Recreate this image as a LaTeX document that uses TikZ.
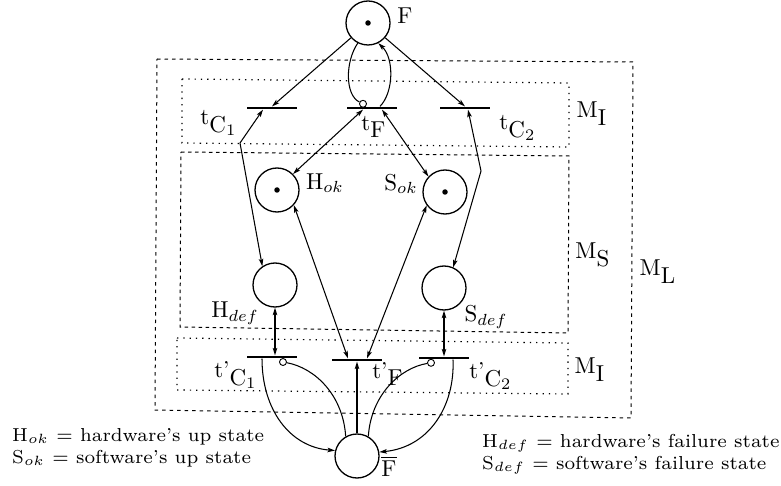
\documentclass[tikz,border=0pt]{standalone}
\usepackage{graphicx}
\usetikzlibrary{arrows.meta}
\newcommand\lbl[1]{\scalebox{2.3}{#1}}
\newcommand\legtxt[1]{\scalebox{2.68}{\fontsize{7}{8.4}\selectfont #1}}
\begin{document}
\begin{tikzpicture}[x=1pt,y=-1pt,
  place/.style={circle,draw,line width=1.3pt,minimum size=44pt,inner sep=0pt},
  token/.style={circle,fill,minimum size=5.5pt,inner sep=0pt},
  trans/.style={rectangle,fill,minimum width=50pt,minimum height=2.8pt,inner sep=0pt},
  inh/.style={circle,draw,fill=white,line width=0.9pt,minimum size=7pt,inner sep=0pt},
  arc/.style={line width=1.05pt},
  lab/.style={inner sep=0pt},
  boxL/.style={dash pattern=on 3.5pt off 4pt,line width=1pt},
  boxI/.style={dash pattern=on 1.3pt off 5pt,line width=1.2pt},
  boxS/.style={dash pattern=on 3.5pt off 3.5pt,line width=1pt},
  >={Stealth[length=7.5pt,width=4.5pt,inset=1.5pt]}]
\useasboundingbox (0,0) rectangle (781,486);
% module boxes
\draw[boxL] (157,59) -- (633,62) -- (631,418) -- (155,410) -- cycle;
\draw[boxI] (182,79) -- (569,83) -- (569,147) -- (182,143) -- cycle;
\draw[boxS] (181,152) -- (569,156) -- (568,333) -- (180,327) -- cycle;
\draw[boxI] (177,338) -- (568,343) -- (568,394) -- (177,390) -- cycle;
% places
\node[place] (F) at (368,23) {};
\node[place] (Hok) at (277,190) {};
\node[place] (Sok) at (445,192) {};
\node[place] (Hdef) at (275,285) {};
\node[place] (Sdef) at (444,288) {};
\node[place] (Fb) at (357,456) {};
\node[token] (kF) at (F.center) {};
\node[token] (kH) at (Hok.center) {};
\node[token] (kS) at (Sok.center) {};
% transitions
\node[trans] (tC1) at (272,108) {};
\node[trans] (tF) at (372,108) {};
\node[trans] (tC2) at (465,108) {};
\node[trans] (tpC1) at (272,357) {};
\node[trans] (tpF) at (357,360) {};
\node[trans] (tpC2) at (443.5,358) {};
% inhibitor circles
\node[inh] (i1) at (363,103.8) {};
\node[inh] (i2) at (283,362) {};
\node[inh] (i3) at (431,362.8) {};
% bend points
\coordinate (b1) at (240,143);
\coordinate (b2) at (481,171);
% arcs
\draw[arc,->] (F) -- (tC1.north);
\draw[arc,->] (F) -- (tC2.north);
\draw[arc] (F.243) .. controls (345,62) and (345,95) .. (i1);
\draw[arc,->] ([xshift=8pt]tF.north) .. controls (394,92) and (394,58) .. (F.297);
\draw[arc,<->] ([xshift=-9pt]tC1.south) -- (b1) -- (Hdef.124);
\draw[arc,<->] ([xshift=-9pt]tF.south) -- (Hok.45);
\draw[arc,<->] ([xshift=10pt]tF.south) -- (Sok.137);
\draw[arc,<->] ([xshift=3pt]tC2.south) -- (b2) -- (Sdef.66);
\draw[arc,<->] (Hdef.south) -- (Hdef.south |- tpC1.north);
\draw[arc,<->] (Sdef.south) -- (Sdef.south |- tpC2.north);
\draw[arc,<->] (Hok.-42) -- ([xshift=-9pt]tpF.north);
\draw[arc,<->] (Sok.216) -- ([xshift=10pt]tpF.north);
\draw[arc,->] (Fb) -- (tpF.south);
\draw[arc,->] ([xshift=-10pt]tpC1.south) .. controls (262,410) and (290,447) .. (Fb.166);
\draw[arc] (Fb.120) .. controls (343,395) and (315,368) .. (i2);
\draw[arc] (Fb.60) .. controls (371,395) and (400,368) .. (i3);
\draw[arc,->] ([xshift=9.5pt]tpC2.south) .. controls (455,405) and (430,447) .. (Fb.10);
% labels
\node[lab] (lF) at (405,16) {\lbl{F}};
\node[lab] (ltC1) at (219,123) {\lbl{t$_{\textstyle\mathrm{C}_1}$}};
\node[lab] (ltF) at (374,127) {\lbl{t$_{\textstyle\mathrm{F}}$}};
\node[lab] (ltC2) at (518,128) {\lbl{t$_{\textstyle\mathrm{C}_2}$}};
\node[lab] (lMI) at (592,114) {\lbl{M$_{\textstyle\mathrm{I}}$}};
\node[lab] (lHok) at (325,183) {\lbl{H$_{ok}$}};
\node[lab] (lSok) at (401,184) {\lbl{S$_{ok}$}};
\node[lab] (lMS) at (593,255) {\lbl{M$_{\textstyle\mathrm{S}}$}};
\node[lab] (lHdef) at (235,313) {\lbl{H$_{def}$}};
\node[lab] (lSdef) at (486,317) {\lbl{S$_{def}$}};
\node[lab] (lML) at (658,272) {\lbl{M$_{\textstyle\mathrm{L}}$}};
\node[lab] (ltpC1) at (236,375) {\lbl{t'$_{\textstyle\mathrm{C}_1}$}};
\node[lab] (ltpF) at (388,374) {\lbl{t'$_{\textstyle\mathrm{F}}$}};
\node[lab] (ltpC2) at (491,376) {\lbl{t'$_{\textstyle\mathrm{C}_2}$}};
\node[lab] (lMI2) at (590,370) {\lbl{M$_{\textstyle\mathrm{I}}$}};
\node[lab] (lFb) at (389,466) {\lbl{$\overline{\mathrm{F}}$}};
% legend
\node[lab,anchor=base west] (leg1) at (12,441) {\legtxt{H$_{ok}$ = hardware's up state}};
\node[lab,anchor=base west] (leg2) at (12,463) {\legtxt{S$_{ok}$ = software's up state}};
\node[lab,anchor=base west] (leg3) at (482,447) {\legtxt{H$_{def}$ = hardware's failure state}};
\node[lab,anchor=base west] (leg4) at (482,469) {\legtxt{S$_{def}$ = software's failure state}};
\end{tikzpicture}
\end{document}
